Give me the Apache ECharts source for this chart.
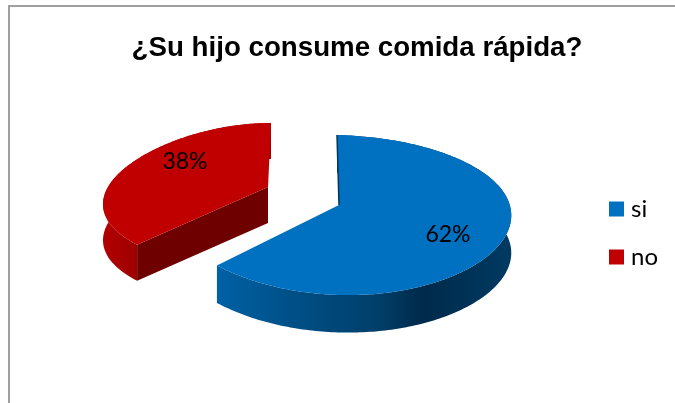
<!DOCTYPE html>
<html><head><meta charset="utf-8">
<style>html,body{margin:0;padding:0;background:#fff}#c{width:675px;height:403px}</style>
<script src="https://cdn.jsdelivr.net/npm/echarts@6/dist/echarts.min.js"></script>
</head><body><div id="c"></div>
<script>
const categories = ['si', 'no'];
const seriesValues = [62, 38];
const chartTitle = '¿Su hijo consume comida rápida?';

const total = seriesValues.reduce((a, b) => a + b, 0);
const G = echarts.graphic;
const grad = (x0, x1, stops) => new G.LinearGradient(x0, 0, x1, 0, stops.map(s => ({offset: s[0], color: s[1]})), true);

const looks = [
  {ax: 339, ay: 205, A: 171.7, B: 78.75, kx: 0.07, ky: 0.125, sk: -2, sy: 4, depth: 37.5,
   top: '#0070c0', radial: '#00365c', labelX: 448, labelY: 235,
   wall: grad(216, 511, [[0, '#0061a5'], [0.3, '#004d82'], [0.55, '#003f6a'], [0.7, '#002a4a'], [1, '#003a62']])},
  {ax: 268, ay: 187, A: 160, B: 72, kx: 0.24, ky: 0.125, sk: 3, sy: 0, depth: 36,
   top: '#c00000', radial: '#6e0000', labelX: 185, labelY: 162,
   wall: grad(103, 140, [[0, '#b20000'], [1, '#9c0000']])}
];

function pt(g, deg, dy) {
  const t = deg * Math.PI / 180, u = Math.sin(t), v = Math.cos(t);
  const s = 1 / (1 + g.ky * v);
  return [g.ax + g.A * u * (1 - g.kx * v) + g.sk * v, g.ay - g.B * v * s + g.sy * u + (dy || 0)];
}

function renderSlice(index) {
  return function (params, api) {
    const val = api.value(0), g = looks[index];
    let before = 0;
    for (let i = 0; i < index; i++) before += seriesValues[i];
    const a0 = before / total * 360, a1 = (before + val) / total * 360;
    const rim = [], rimLow = [];
    for (let d = a0; d < a1; d += 1) { rim.push(pt(g, d)); rimLow.push(pt(g, d, g.depth)); }
    rim.push(pt(g, a1)); rimLow.push(pt(g, a1, g.depth));
    const apex = [g.ax, g.ay], apexLow = [g.ax, g.ay + g.depth];
    const kids = [];
    kids.push({type: 'polygon', shape: {points: rim.concat(rimLow.slice().reverse())}, style: {fill: g.wall}});
    if (index === 1) {
      const tip = pt(g, a0), tipLow = pt(g, a0, g.depth);
      kids.push({type: 'polygon', shape: {points: [apex, tip, tipLow, apexLow]}, style: {fill: g.radial}});
    }
    kids.push({type: 'polygon', shape: {points: [apex].concat(rim)}, style: {fill: g.top}});
    if (index === 0) {
      kids.push({type: 'polyline', shape: {points: [pt(g, a0), apex]}, style: {stroke: g.radial, lineWidth: 1.5, fill: null}});
    }
    kids.push({type: 'text', x: g.labelX, y: g.labelY, style: {
      text: Math.round(val / total * 100) + '%', fill: '#000', font: '23px Lato',
      textAlign: 'center', textVerticalAlign: 'middle'}});
    return {type: 'group', children: kids};
  };
}

const chart = echarts.init(document.getElementById('c'), null, {renderer: 'canvas'});
chart.setOption({
  animation: false,
  backgroundColor: '#fff',
  title: {text: chartTitle, left: 352, top: 29, textAlign: 'center',
    textStyle: {fontFamily: 'Liberation Sans', fontWeight: 'bold', fontSize: 27.7, color: '#000'}},
  legend: {orient: 'vertical', left: 609, top: 197, itemWidth: 15, itemHeight: 15, itemGap: 24,
    data: categories, icon: 'rect', itemStyle: {borderWidth: 0},
    textStyle: {fontFamily: 'Lato', fontSize: 24, lineHeight: 24, color: '#000', padding: [0, 0, 0, 2]}, padding: 0},
  graphic: [{type: 'rect', z: -1, shape: {x: 9, y: 6, width: 800, height: 600},
    style: {fill: '#fff', stroke: '#a0a0a0', lineWidth: 2}}],
  series: categories.map((name, i) => ({
    type: 'custom', name, coordinateSystem: 'none', renderItem: renderSlice(i),
    itemStyle: {color: looks[i].top}, data: [[seriesValues[i]]]
  }))
});
</script></body></html>
